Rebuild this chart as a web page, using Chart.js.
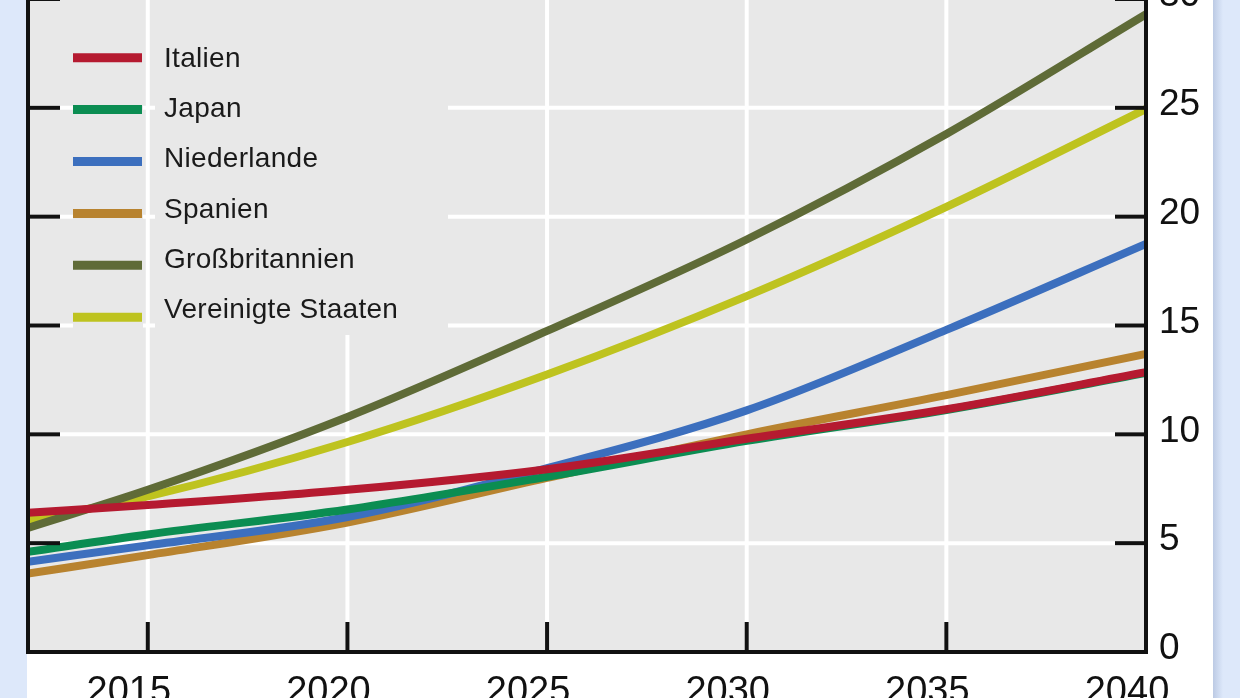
<!DOCTYPE html>
<html>
<head>
<meta charset="utf-8">
<script src="https://cdn.jsdelivr.net/npm/chart.js@4.4.1/dist/chart.umd.min.js"></script>
<style>
  html, body { margin: 0; padding: 0; width: 1240px; height: 698px; overflow: hidden; background: #dde8fa; position: relative; }
  #panel { position: absolute; left: 27px; top: 0; width: 1186px; height: 698px; background: #ffffff; }
  #shadow { position: absolute; left: 1213px; top: 0; width: 10px; height: 698px; background: linear-gradient(to right, #bccae4, #dde8fa); }
  #wrap { position: absolute; left: 0; top: -40px; width: 1240px; height: 800px; }
</style>
</head>
<body>
<div id="panel"></div>
<div id="shadow"></div>
<div id="wrap"><canvas id="c"></canvas></div>
<script>
// ---- data ----
const years = [2012, 2015, 2020, 2025, 2030, 2035, 2040];
const seriesNames = ["Italien", "Japan", "Niederlande", "Spanien", "Großbritannien", "Vereinigte Staaten"];
const italien        = [6.4, 6.75, 7.45, 8.4, 9.8, 11.15, 12.85];
const japan          = [4.6, 5.4, 6.55, 8.05, 9.7, 11.12, 12.82];
const niederlande    = [4.15, 4.9, 6.2, 8.45, 11.1, 14.8, 18.75];
const spanien        = [3.6, 4.45, 5.95, 8.0, 10.0, 11.8, 13.7];
const grossbritannien= [5.7, 7.45, 10.8, 14.75, 18.95, 23.8, 29.3];
const usa            = [6.05, 7.15, 9.65, 12.75, 16.35, 20.45, 24.95];
const xTicks = [2015, 2020, 2025, 2030, 2035, 2040];
const yTicks = [0, 5, 10, 15, 20, 25, 30];

// ---- styles ----
const colors = ["#b51a30", "#0b8d52", "#3c6fbe", "#b8832f", "#5f6b37", "#bec31f"];
const allValues = [italien, japan, niederlande, spanien, grossbritannien, usa];
const OFF = 40; // canvas is shifted up by this many px
const GRAY = "#e8e8e8";
const INK = "#111111";

const datasets = seriesNames.map((name, i) => ({
  label: name,
  data: years.map((yr, k) => ({ x: yr, y: allValues[i][k] })),
  borderColor: colors[i],
  backgroundColor: colors[i],
  borderWidth: 8,
  pointRadius: 0,
  fill: false,
  cubicInterpolationMode: 'monotone',
  clip: 0
}));

function seg(ctx, x1, y1, x2, y2) {
  ctx.beginPath(); ctx.moveTo(x1, y1); ctx.lineTo(x2, y2); ctx.stroke();
}

const decor = {
  id: 'decor',
  beforeDatasetsDraw(chart) {
    const { ctx, chartArea: a, scales: { x, y } } = chart;
    ctx.save();
    ctx.fillStyle = GRAY;
    ctx.fillRect(a.left, a.top, a.right - a.left, a.bottom - a.top);
    ctx.strokeStyle = "#ffffff";
    ctx.lineWidth = 4;
    xTicks.forEach(v => {
      if (v >= 2040) return;
      const px = x.getPixelForValue(v);
      seg(ctx, px, a.top, px, a.bottom);
    });
    yTicks.forEach(v => {
      if (v <= 0 || v >= 30) return;
      const py = y.getPixelForValue(v);
      seg(ctx, a.left, py, a.right, py);
    });
    // legend background boxes
    ctx.fillStyle = GRAY;
    ctx.fillRect(73, a.top, 70, OFF + 335 - a.top);
    ctx.fillRect(155, a.top, 293, OFF + 335 - a.top);
    ctx.restore();
  },
  afterDatasetsDraw(chart) {
    const { ctx, chartArea: a, scales: { x, y } } = chart;
    ctx.save();
    ctx.strokeStyle = INK;
    ctx.lineWidth = 4;
    ctx.lineCap = 'butt';
    // axes
    seg(ctx, a.left, a.top, a.left, a.bottom + 2);
    seg(ctx, a.right, a.top, a.right, a.bottom + 2);
    seg(ctx, a.left - 2, a.bottom, a.right + 2, a.bottom);
    // x ticks (inward)
    xTicks.forEach(v => {
      if (v >= 2040) return;
      const px = x.getPixelForValue(v);
      seg(ctx, px, a.bottom - 30, px, a.bottom);
    });
    // y ticks (inward, both sides)
    yTicks.forEach(v => {
      if (v <= 0) return;
      const py = y.getPixelForValue(v);
      seg(ctx, a.left, py, a.left + 32, py);
      seg(ctx, a.right - 31, py, a.right, py);
    });
    // legend
    seriesNames.forEach((name, i) => {
      const sy = OFF + 57.7 + i * 51.9;
      ctx.strokeStyle = colors[i];
      ctx.lineWidth = 9;
      seg(ctx, 73, sy, 142, sy);
      ctx.fillStyle = "#1a1a1a";
      ctx.font = '28px "Liberation Sans", Arial, sans-serif';
      try { ctx.letterSpacing = '0.3px'; } catch (e) {}
      ctx.textBaseline = 'alphabetic';
      ctx.textAlign = 'left';
      ctx.fillText(name, 164, OFF + 66.7 + i * 50.3);
    });
    ctx.restore();
  }
};

new Chart(document.getElementById('c'), {
  type: 'line',
  data: { datasets },
  plugins: [decor],
  options: {
    responsive: true,
    maintainAspectRatio: false,
    animation: false,
    layout: { padding: { left: 28, right: 0, top: 39, bottom: 48 } },
    plugins: { legend: { display: false }, tooltip: { enabled: false } },
    scales: {
      x: {
        type: 'linear',
        position: 'bottom',
        min: 2012,
        max: 2040,
        afterBuildTicks: s => { s.ticks = xTicks.map(v => ({ value: v })); },
        afterFit: s => { s.height = 60; },
        grid: { display: false, drawTicks: false },
        border: { display: false },
        ticks: {
          autoSkip: false,
          maxRotation: 0,
          padding: 18,
          labelOffset: -19,
          color: INK,
          font: { family: '"Liberation Sans", Arial, sans-serif', size: 38 },
          callback: v => String(v)
        }
      },
      y: {
        type: 'linear',
        position: 'right',
        min: 0,
        max: 30,
        afterBuildTicks: s => { s.ticks = yTicks.map(v => ({ value: v })); },
        afterFit: s => { s.width = 94; },
        grid: { display: false, drawTicks: false },
        border: { display: false },
        ticks: {
          padding: 13,
          labelOffset: -3,
          color: INK,
          font: { family: '"Liberation Sans", Arial, sans-serif', size: 37 },
          callback: v => String(v)
        }
      }
    }
  }
});
</script>
</body>
</html>
